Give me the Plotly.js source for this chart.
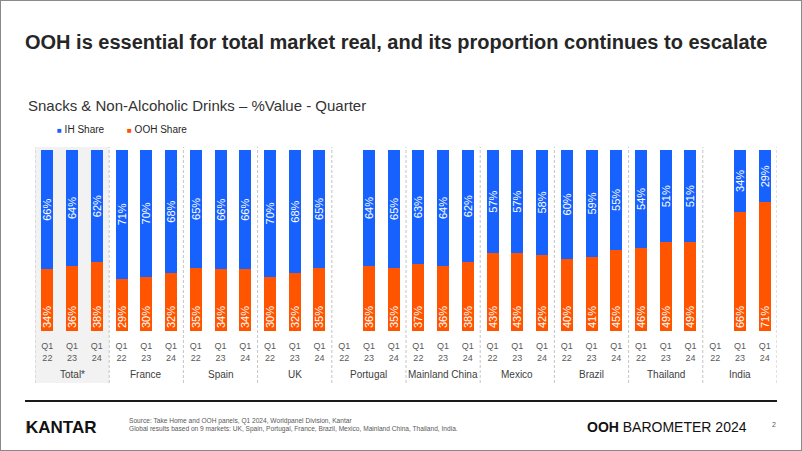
<!DOCTYPE html>
<html>
<head>
<meta charset="utf-8">
<script src="https://cdn.plot.ly/plotly-3.0.1.min.js"></script>
<style>
  html, body { margin: 0; padding: 0; background: #ffffff; }
  #chart { width: 802px; height: 451px; }
  #frame { position: absolute; left: 0; top: 0; width: 802px; height: 451px; box-sizing: border-box; border: 1px solid #8a8a8a; pointer-events: none; }
</style>
</head>
<body>
<div id="chart"></div>
<div id="frame"></div>
<script>
// ---- data ----
const markets = ['Total*', 'France', 'Spain', 'UK', 'Portugal', 'Mainland China', 'Mexico', 'Brazil', 'Thailand', 'India'];
const quarters = ['Q1<br>22', 'Q1<br>23', 'Q1<br>24'];
const seriesNames = ['IH Share', 'OOH Share'];
const ihShare = [66, 64, 62,  71, 70, 68,  65, 66, 66,  70, 68, 65,  null, 64, 65,  63, 64, 62,  57, 57, 58,  60, 59, 55,  54, 51, 51,  null, 34, 29];
const oohShare = [34, 36, 38,  29, 30, 32,  35, 34, 34,  30, 32, 35,  null, 36, 35,  37, 36, 38,  43, 43, 42,  40, 41, 45,  46, 49, 49,  null, 66, 71];
const title = 'OOH is essential for total market real, and its proportion continues to escalate';
const subtitle = 'Snacks & Non-Alcoholic Drinks \u2013 %Value - Quarter';
const sourceLines = [
  'Source: Take Home and OOH panels, Q1 2024, Worldpanel Division, Kantar',
  'Global results based on 9 markets: UK, Spain, Portugal, France, Brazil, Mexico, Mainland China, Thailand, India.'
];

// ---- derived ----
const BLUE = '#1762ff';
const ORANGE = '#ff5500';
const FONT = 'Liberation Sans, Arial, sans-serif';

const xIdx = [];
const tickText = [];
markets.forEach((m, gi) => quarters.forEach((q, qi) => { xIdx.push(gi * quarters.length + qi); tickText.push(q); }));
const nSlots = xIdx.length;

const pct = arr => arr.map(v => (v === null ? '' : v + '%'));

const ML = 35, MR = 25, MT = 150, MB = 120, W = 802, H = 451;
const PW = W - ML - MR, PH = H - MT - MB;
const px2x = px => (px - ML) / PW;          // paper x from pixel
const py2y = py => (H - MB - py) / PH;      // paper y from pixel

const traces = [
  {
    type: 'bar', name: seriesNames[1], x: xIdx, y: oohShare,
    marker: { color: ORANGE }, width: 0.485,
    text: pct(oohShare), textposition: 'inside', insidetextanchor: 'start',
    textangle: -90, constraintext: 'none',
    textfont: { family: FONT, size: 11, color: '#ffffff' },
    showlegend: false, hoverinfo: 'skip'
  },
  {
    type: 'bar', name: seriesNames[0], x: xIdx, y: ihShare,
    marker: { color: BLUE }, width: 0.485,
    text: pct(ihShare), textposition: 'inside', insidetextanchor: 'middle',
    textangle: -90, constraintext: 'none',
    textfont: { family: FONT, size: 11, color: '#ffffff' },
    showlegend: false, hoverinfo: 'skip'
  }
];

const shapes = [];
const annotations = [];
const sepTop = py2y(147), sepBot = py2y(383);

// Total background
shapes.push({ type: 'rect', xref: 'x', yref: 'paper', x0: -0.5, x1: 2.5, y0: sepBot, y1: sepTop,
  fillcolor: '#f2f2f2', line: { width: 0 }, layer: 'below' });
// dashed separators
for (let g = 0; g <= markets.length; g++) {
  shapes.push({ type: 'line', xref: 'x', yref: 'paper', x0: g * 3 - 0.5, x1: g * 3 - 0.5, y0: sepBot, y1: sepTop,
    line: { color: '#c4c4c4', width: 1, dash: '3px,2px' }, layer: 'below' });
}
// group labels
markets.forEach((m, gi) => {
  annotations.push({ xref: 'x', yref: 'paper', x: gi * 3 + 1, y: py2y(374), text: m, showarrow: false,
    xanchor: 'center', yanchor: 'middle', font: { family: FONT, size: 10, color: '#404040' } });
});

// subtitle
annotations.push({ xref: 'paper', yref: 'paper', x: px2x(26), y: py2y(105), text: subtitle, showarrow: false,
  xanchor: 'left', yanchor: 'middle', font: { family: FONT, size: 15, color: '#333333' } });
// legend
annotations.push({ xref: 'paper', yref: 'paper', x: px2x(55), y: py2y(129),
  text: '<span style="color:' + BLUE + ';font-size:8px">\u25A0</span> ' + seriesNames[0], showarrow: false,
  xanchor: 'left', yanchor: 'middle', font: { family: FONT, size: 10, color: '#262626' } });
annotations.push({ xref: 'paper', yref: 'paper', x: px2x(125), y: py2y(129),
  text: '<span style="color:' + ORANGE + ';font-size:8px">\u25A0</span> ' + seriesNames[1], showarrow: false,
  xanchor: 'left', yanchor: 'middle', font: { family: FONT, size: 10, color: '#262626' } });

// footer
shapes.push({ type: 'line', xref: 'paper', yref: 'paper', x0: px2x(25), x1: px2x(777), y0: py2y(401), y1: py2y(401),
  line: { color: '#1a1a1a', width: 2 } });
annotations.push({ xref: 'paper', yref: 'paper', x: px2x(24), y: py2y(427), text: '<b>KANTAR</b>', showarrow: false,
  xanchor: 'left', yanchor: 'middle', font: { family: FONT, size: 17, color: '#111111' } });
shapes.push({ type: 'rect', xref: 'paper', yref: 'paper', x0: px2x(26.3), x1: px2x(28.6), y0: py2y(433.5), y1: py2y(421),
  fillcolor: '#c9a646', line: { width: 0 } });
annotations.push({ xref: 'paper', yref: 'paper', x: px2x(127), y: py2y(421), text: sourceLines[0], showarrow: false,
  xanchor: 'left', yanchor: 'middle', font: { family: FONT, size: 6.6, color: '#595959' } });
annotations.push({ xref: 'paper', yref: 'paper', x: px2x(127), y: py2y(428.5), text: sourceLines[1], showarrow: false,
  xanchor: 'left', yanchor: 'middle', font: { family: FONT, size: 6.6, color: '#595959' } });
annotations.push({ xref: 'paper', yref: 'paper', x: px2x(749), y: py2y(427), text: '<b>OOH</b> BAROMETER 2024', showarrow: false,
  xanchor: 'right', yanchor: 'middle', font: { family: FONT, size: 14, color: '#111111' } });
annotations.push({ xref: 'paper', yref: 'paper', x: px2x(774), y: py2y(424), text: '2', showarrow: false,
  xanchor: 'center', yanchor: 'middle', font: { family: FONT, size: 7, color: '#595959' } });

const layout = {
  width: W, height: H,
  margin: { l: ML, r: MR, t: MT, b: MB, pad: 0 },
  paper_bgcolor: '#ffffff', plot_bgcolor: 'rgba(0,0,0,0)',
  barmode: 'stack',
  showlegend: false,
  title: { text: '<b>' + title + '</b>', x: 25 / W, xref: 'container', xanchor: 'left',
    y: 1 - 42 / H, yref: 'container', yanchor: 'middle',
    font: { family: FONT, size: 20, color: '#262626' } },
  xaxis: { range: [-0.5, nSlots - 0.5], tickvals: xIdx, ticktext: tickText, showgrid: false, zeroline: false,
    showline: false, ticks: '', tickangle: 0, ticklabelstandoff: 8,
    tickfont: { family: FONT, size: 9, color: '#595959' }, fixedrange: true },
  yaxis: { range: [0, 100], visible: false, fixedrange: true },
  shapes: shapes,
  annotations: annotations
};

Plotly.newPlot('chart', traces, layout, { displayModeBar: false, staticPlot: true });
</script>
</body>
</html>
